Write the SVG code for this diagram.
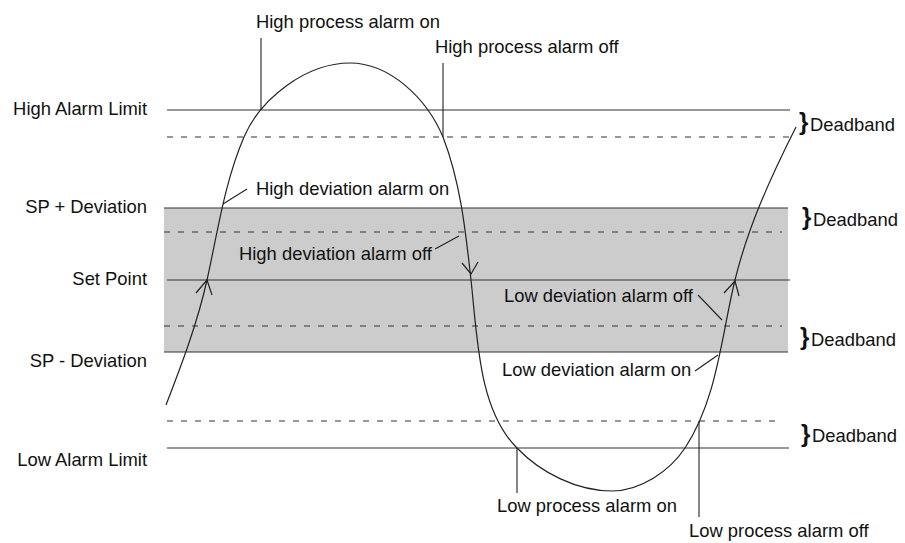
<svg xmlns="http://www.w3.org/2000/svg" width="905" height="543" viewBox="0 0 905 543">
<style>
.bg{fill:#ffffff}
.band{fill:#cccccc}
.solid{stroke:#333333;stroke-width:1.2;fill:none}
.dash{stroke:#333333;stroke-width:1.1;fill:none;stroke-dasharray:6 8}
.curve{stroke:#222222;stroke-width:1.2;fill:none}
.lead{stroke:#222222;stroke-width:1.1;fill:none}
.t{font-family:"Liberation Sans",Arial,Helvetica,sans-serif;font-size:18.4px;fill:#111111}
.br{font-family:"Liberation Sans",Arial,Helvetica,sans-serif;font-size:24px;font-weight:bold;fill:#111111}
</style>
<rect class="bg" x="0" y="0" width="905" height="543"/>
<g id="band">
<rect class="band" x="164" y="208" width="624" height="144"/>
</g>
<g id="levels">
<line class="solid" x1="167" y1="110" x2="790" y2="110"/>
<line class="dash" x1="167" y1="137" x2="792" y2="137"/>
<line class="solid" x1="164" y1="208" x2="788" y2="208"/>
<line class="dash" x1="164" y1="232" x2="782" y2="232"/>
<line class="solid" x1="167" y1="280" x2="790" y2="280"/>
<line class="dash" x1="164" y1="326" x2="782" y2="326"/>
<line class="solid" x1="164" y1="352" x2="788" y2="352"/>
<line class="dash" x1="167" y1="421" x2="780" y2="421"/>
<line class="solid" x1="167" y1="448" x2="789" y2="448"/>
</g>
<g id="level-labels" class="t" text-anchor="end">
<text x="147" y="115">High Alarm Limit</text>
<text x="147" y="213">SP + Deviation</text>
<text x="147" y="285">Set Point</text>
<text x="147" y="367">SP - Deviation</text>
<text x="147" y="466">Low Alarm Limit</text>
</g>
<g id="curve">
<path class="curve" d="M166,405 C181.8,364.2 197.5,322.8 207,280 C217.7,232 224.6,182.2 244,137 C261,97.4 306.9,63 350,63 C389.6,63 426.5,98 443,137 C460.5,182.3 465.7,231.7 471,280 C477.4,337.8 478.5,410 517,448 C541,473.1 577.2,491 612,491 C640.2,491 669.5,471.4 685,448 C717.1,399.5 721.2,336.7 735,280 C748,226.7 771.3,175.9 796,127"/>
<polyline class="curve" points="196,293 207,280 212,295"/>
<polyline class="curve" points="462,263 471,274 478,262"/>
<polyline class="curve" points="724,293 735,281 739,296"/>
</g>
<g id="connectors">
<line class="lead" x1="261" y1="38" x2="261" y2="110"/>
<line class="lead" x1="443" y1="63" x2="443" y2="137"/>
<line class="lead" x1="223" y1="204" x2="247" y2="189"/>
<line class="lead" x1="435" y1="249" x2="459" y2="236"/>
<line class="lead" x1="698" y1="295" x2="722" y2="320"/>
<line class="lead" x1="695" y1="371" x2="718" y2="355"/>
<line class="lead" x1="517" y1="448" x2="517" y2="493"/>
<line class="lead" x1="699" y1="421" x2="699" y2="517"/>
</g>
<g id="event-labels" class="t">
<text x="256" y="28">High process alarm on</text>
<text x="435" y="53">High process alarm off</text>
<text x="256" y="195">High deviation alarm on</text>
<text x="239" y="260">High deviation alarm off</text>
<text x="504" y="302">Low deviation alarm off</text>
<text x="502" y="376">Low deviation alarm on</text>
<text x="497" y="512">Low process alarm on</text>
<text x="689" y="537">Low process alarm off</text>
</g>
<g id="deadbands">
<text class="br" x="799" y="130">}</text>
<text class="t" x="810" y="131">Deadband</text>
<text class="br" x="802" y="225">}</text>
<text class="t" x="813" y="226">Deadband</text>
<text class="br" x="800" y="345">}</text>
<text class="t" x="811" y="346">Deadband</text>
<text class="br" x="801" y="442">}</text>
<text class="t" x="812" y="442">Deadband</text>
</g>
</svg>
